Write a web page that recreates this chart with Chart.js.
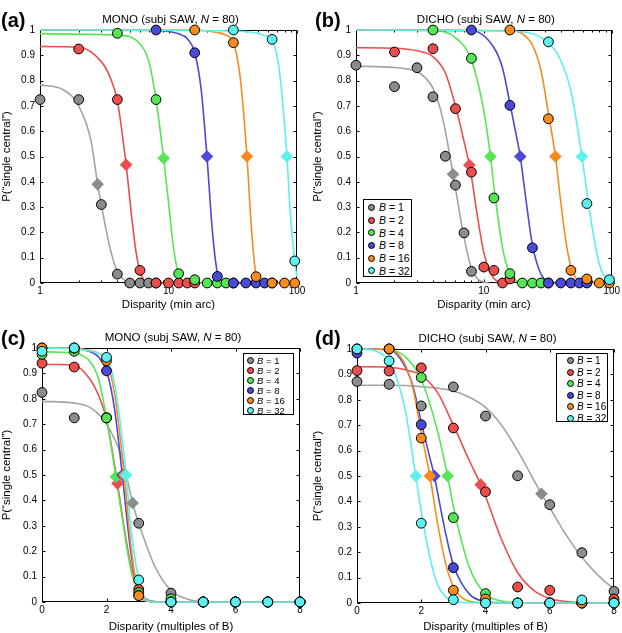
<!DOCTYPE html>
<html>
<head>
<meta charset="utf-8">
<title>MONO / DICHO psychometric functions</title>
<script src="https://cdn.jsdelivr.net/npm/chart.js@4.4.1/dist/chart.umd.min.js"></script>
<style>
  html, body { margin: 0; padding: 0; background: #fff; }
  body { position: relative; width: 622px; height: 633px; overflow: hidden;
         font-family: "Liberation Sans", Arial, Helvetica, sans-serif; color: #000; }
  canvas.panel { position: absolute; }
  .tag { position: absolute; font-weight: bold; font-size: 20px; line-height: 20px; }
  .title { position: absolute; font-size: 11.5px; line-height: 14px; white-space: nowrap; transform: translate(-50%, -50%); }
  .legend { position: absolute; box-sizing: border-box; border: 1px solid #000; background: #fff; }
  .legend .row { display: flex; align-items: center; white-space: nowrap; }
  .legend .dot { display: inline-block; box-sizing: border-box; border: 1px solid #000; border-radius: 50%; flex: none; }
</style>
</head>
<body>
<canvas id="chart-a" class="panel"></canvas>
<canvas id="chart-b" class="panel"></canvas>
<canvas id="chart-c" class="panel"></canvas>
<canvas id="chart-d" class="panel"></canvas>
<div id="overlay"></div>
<script>
// Block sizes and the multiples of B that were tested
const bValues = [1, 2, 4, 8, 16, 32];
const multiples = [0, 1, 2, 3, 4, 5, 6, 7, 8];

const pointColors = ['#8c8c8c', '#ec4d4d', '#55e655', '#4a4ad9', '#f78c1e', '#5cf0f0'];
const lineColors = ['#a3a3a3', '#ec4d4d', '#55e655', '#4a4ad9', '#f78c1e', '#5cf0f0'];

// MONO: P("single central") at disparity = multiple * B
const monoB1 = [0.825, 0.725, 0.725, 0.31, 0.035, 0, 0, 0, 0];
const monoB2 = [0.94, 0.925, 0.725, 0.05, 0, 0, 0, 0, 0];
const monoB4 = [0.975, 0.987, 0.725, 0.037, 0.013, 0, 0, 0, 0];
const monoB8 = [1, 1, 0.91, 0.026, 0, 0, 0, 0, 0];
const monoB16 = [1, 1, 0.95, 0.025, 0, 0, 0, 0, 0];
const monoB32 = [0.987, 1, 0.963, 0.087, 0, 0, 0, 0, 0];

// DICHO
const dichoB1 = [0.872, 0.861, 0.776, 0.851, 0.736, 0.501, 0.387, 0.198, 0.046];
const dichoB2 = [0.915, 0.913, 0.926, 0.689, 0.438, 0.063, 0.05, 0, 0.016];
const dichoB4 = [1, 1, 0.888, 0.336, 0.037, 0, 0, 0, 0];
const dichoB8 = [0.984, 1, 0.702, 0.139, 0, 0, 0, 0, 0];
const dichoB16 = [1, 1, 0.649, 0.05, 0.016, 0, 0, 0, 0];
const dichoB32 = [1, 0.953, 0.314, 0.013, 0, 0, 0, 0.012, 0];

// half-maximum points (diamonds), x in multiples of B
const monoHalfK = [2.81, 2.34, 2.29, 2.49, 2.55, 2.61];
const monoHalfP = [0.39, 0.467, 0.493, 0.5, 0.5, 0.5];
const dichoHalfK = [5.74, 3.85, 2.82, 2.41, 2.27, 1.83];
const dichoHalfP = [0.43, 0.466, 0.5, 0.5, 0.5, 0.5];

// fitted curves: [multiple of B, P]
const monoFitB1 = [[0, 0.79], [1, 0.783], [1.5, 0.765], [2, 0.70], [2.5, 0.56], [2.81, 0.39], [3, 0.31], [3.5, 0.14], [4, 0.045], [4.5, 0.012], [5, 0.002], [6, 0], [8, 0]];
const monoFitB2 = [[0, 0.935], [0.5, 0.935], [1, 0.932], [1.5, 0.875], [1.75, 0.815], [2, 0.72], [2.34, 0.467], [2.6, 0.25], [2.8, 0.12], [3, 0.045], [3.25, 0.01], [3.5, 0.002], [4, 0], [8, 0]];
const monoFitB4 = [[0, 0.985], [1, 0.98], [1.5, 0.945], [1.75, 0.88], [2, 0.725], [2.29, 0.493], [2.5, 0.32], [2.75, 0.13], [3, 0.035], [3.25, 0.008], [3.5, 0.001], [4, 0], [8, 0]];
const monoFitB8 = [[0, 1], [1, 0.998], [1.5, 0.985], [1.75, 0.965], [2, 0.91], [2.25, 0.76], [2.49, 0.5], [2.75, 0.2], [3, 0.04], [3.25, 0.006], [3.5, 0], [8, 0]];
const monoFitB16 = [[0, 1], [1, 1], [1.5, 0.99], [1.75, 0.98], [2, 0.95], [2.25, 0.82], [2.55, 0.5], [2.75, 0.23], [3, 0.03], [3.25, 0.004], [3.5, 0], [8, 0]];
const monoFitB32 = [[0, 1], [1, 0.996], [1.5, 0.988], [1.75, 0.978], [2, 0.96], [2.25, 0.86], [2.61, 0.5], [2.75, 0.3], [3, 0.085], [3.125, 0.025], [3.25, 0.005], [3.5, 0], [8, 0]];

const dichoFitB1 = [[0, 0.857], [1, 0.857], [2, 0.852], [3, 0.835], [3.5, 0.81], [4, 0.77], [4.5, 0.70], [5, 0.6], [5.74, 0.43], [6, 0.375], [6.5, 0.27], [7, 0.18], [7.5, 0.11], [8, 0.058], [9, 0.015], [10, 0.004], [11, 0]];
const dichoFitB2 = [[0, 0.93], [0.5, 0.93], [1, 0.928], [1.5, 0.918], [2, 0.895], [2.5, 0.83], [3, 0.70], [3.5, 0.56], [3.85, 0.466], [4, 0.42], [4.5, 0.25], [5, 0.12], [5.5, 0.05], [6, 0.018], [6.5, 0.006], [7, 0.002], [8, 0]];
const dichoFitB4 = [[0, 1], [0.25, 1], [1, 0.997], [1.5, 0.97], [2, 0.88], [2.5, 0.68], [2.82, 0.5], [3, 0.38], [3.5, 0.14], [4, 0.035], [4.5, 0.008], [5, 0.002], [6, 0], [8, 0]];
const dichoFitB8 = [[0, 1], [1, 0.997], [1.5, 0.93], [1.75, 0.85], [2, 0.71], [2.25, 0.58], [2.41, 0.5], [2.5, 0.44], [2.75, 0.28], [3, 0.15], [3.5, 0.035], [4, 0.006], [4.5, 0.001], [5, 0], [8, 0]];
const dichoFitB16 = [[0, 1], [1, 0.997], [1.25, 0.985], [1.5, 0.94], [1.75, 0.84], [2, 0.67], [2.27, 0.5], [2.5, 0.32], [2.75, 0.16], [3, 0.065], [3.25, 0.022], [3.5, 0.007], [4, 0.001], [4.5, 0], [8, 0]];
const dichoFitB32 = [[0, 1], [0.5, 0.995], [1, 0.95], [1.25, 0.88], [1.5, 0.76], [1.83, 0.5], [2, 0.36], [2.25, 0.19], [2.5, 0.075], [2.75, 0.025], [3, 0.008], [3.5, 0.001], [4, 0], [8, 0]];

const monoPoints = [monoB1, monoB2, monoB4, monoB8, monoB16, monoB32];
const dichoPoints = [dichoB1, dichoB2, dichoB4, dichoB8, dichoB16, dichoB32];
const monoFits = [monoFitB1, monoFitB2, monoFitB4, monoFitB8, monoFitB16, monoFitB32];
const dichoFits = [dichoFitB1, dichoFitB2, dichoFitB4, dichoFitB8, dichoFitB16, dichoFitB32];

const FONT = '"Liberation Sans", Arial, Helvetica, sans-serif';

// panel layout: canvas box and wanted plot area (left, top, right, bottom) inside it
const panels = [
  { id: 'chart-a', tag: '(a)', left: 0, top: 0, w: 311, h: 316, area: [40, 30, 297, 283], log: true, mode: 'MONO',
    xTitle: 'Disparity (min arc)', legend: null },
  { id: 'chart-b', tag: '(b)', left: 311, top: 0, w: 311, h: 316, area: [45, 30, 302, 283], log: true, mode: 'DICHO',
    xTitle: 'Disparity (min arc)', legend: { x: 363, y: 199, w: 49, h: 78, row: 12.7, font: 10.5, dot: 7, pad: 4, gap: 4 } },
  { id: 'chart-c', tag: '(c)', left: 0, top: 316, w: 311, h: 322, area: [42, 32, 300, 286], log: false, mode: 'MONO',
    xTitle: 'Disparity (multiples of B)', legend: { x: 243, y: 353, w: 51, h: 62, row: 10.1, font: 9.5, dot: 7, pad: 3, gap: 3 } },
  { id: 'chart-d', tag: '(d)', left: 311, top: 316, w: 311, h: 322, area: [46, 33, 303, 287], log: false, mode: 'DICHO',
    xTitle: 'Disparity (multiples of B)', legend: { x: 556, y: 353, w: 52, h: 69, row: 11.5, font: 10, dot: 7, pad: 10, gap: 3 } },
];

// Box with inward tick marks on all four sides
const framePlugin = {
  id: 'frame',
  beforeDatasetsDraw(chart) {
    const { ctx, chartArea: a, scales: { x, y } } = chart;
    const L = Math.round(a.left) + 0.5, R = Math.round(a.right) - 0.5;
    const T = Math.round(a.top) + 0.5, B = Math.round(a.bottom) - 0.5;
    ctx.save();
    ctx.strokeStyle = '#000';
    ctx.lineWidth = 1;
    ctx.beginPath();
    x.ticks.forEach(t => {
      const px = Math.round(x.getPixelForValue(t.value)) + 0.5;
      const len = t.label === '' ? 2 : 3;
      ctx.moveTo(px, B); ctx.lineTo(px, B - len);
      ctx.moveTo(px, T); ctx.lineTo(px, T + len);
    });
    y.ticks.forEach(t => {
      const py = Math.round(y.getPixelForValue(t.value)) + 0.5;
      ctx.moveTo(L, py); ctx.lineTo(L + 3, py);
      ctx.moveTo(R, py); ctx.lineTo(R - 3, py);
    });
    ctx.stroke();
    ctx.strokeRect(L, T, R - L, B - T);
    ctx.restore();
  }
};

function buildDatasets(points, fits, halfK, halfP, log) {
  const sets = [];
  bValues.forEach((b, i) => {
    // fitted curve
    let curve = fits[i].map(([k, p]) => ({ x: log ? k * b : k, y: p }));
    if (log) {
      curve = curve.filter(pt => pt.x >= 1);
      if (curve[0].x > 1) curve.unshift({ x: 1, y: fits[i][0][1] });
    }
    sets.push({
      data: curve,
      showLine: true,
      borderColor: lineColors[i],
      borderWidth: 1.6,
      pointRadius: 0,
      cubicInterpolationMode: 'monotone',
      clip: 1,
      order: 40 - i,
    });
    // half-maximum diamond
    sets.push({
      data: [{ x: log ? halfK[i] * b : halfK[i], y: halfP[i] }],
      pointStyle: 'rectRot',
      pointRadius: 6.3,
      backgroundColor: pointColors[i],
      borderWidth: 0,
      clip: false,
      order: 30 - i,
    });
    // observed proportions
    let obs = multiples.map((k, j) => ({ x: log ? k * b : k, y: points[i][j] }));
    if (log) obs = obs.filter(pt => pt.x >= 1 && pt.x <= 100);
    sets.push({
      data: obs,
      pointStyle: 'circle',
      pointRadius: 4.9,
      backgroundColor: pointColors[i],
      borderColor: '#000',
      borderWidth: 1,
      clip: false,
      order: 20 - i,
    });
  });
  return sets;
}

function makePanel(p) {
  const canvas = document.getElementById(p.id);
  canvas.width = p.w;
  canvas.height = p.h;
  canvas.style.left = p.left + 'px';
  canvas.style.top = p.top + 'px';
  const [L, T, R, B] = p.area;
  const mono = p.mode === 'MONO';
  const datasets = mono
    ? buildDatasets(monoPoints, monoFits, monoHalfK, monoHalfP, p.log)
    : buildDatasets(dichoPoints, dichoFits, dichoHalfK, dichoHalfP, p.log);

  const xScale = p.log
    ? {
        type: 'logarithmic', min: 1, max: 100,
        ticks: {
          autoSkip: false, maxRotation: 0, padding: 2, color: '#000',
          font: { family: FONT, size: 10 },
          callback: v => {
            const e = Math.log10(v);
            return Math.abs(e - Math.round(e)) < 1e-9 ? String(v) : '';
          },
        },
      }
    : {
        type: 'linear', min: 0, max: 8,
        ticks: { stepSize: 2, autoSkip: false, maxRotation: 0, padding: 2, color: '#000', font: { family: FONT, size: 10 } },
      };
  Object.assign(xScale, {
    position: 'bottom',
    grid: { display: false, drawTicks: false },
    border: { display: false },
    title: { display: true, text: p.xTitle, color: '#000', font: { family: FONT, size: 11.5 }, padding: { top: 0, bottom: 4 } },
    afterFit: s => { s.height = p.h - B; },
  });

  const chart = new Chart(canvas, {
    type: 'scatter',
    data: { datasets },
    options: {
      responsive: false,
      animation: false,
      events: [],
      layout: { autoPadding: false, padding: { left: 0, top: T, right: p.w - R, bottom: 0 } },
      plugins: { legend: { display: false }, tooltip: { enabled: false } },
      scales: {
        x: xScale,
        y: {
          type: 'linear', min: 0, max: 1,
          grid: { display: false, drawTicks: false },
          border: { display: false },
          ticks: {
            stepSize: 0.1, padding: 5, color: '#000', font: { family: FONT, size: 10 },
            callback: v => String(Math.round(v * 10) / 10),
          },
          title: { display: true, text: 'P(\u201csingle central\u201d)', color: '#000', font: { family: FONT, size: 11.5 }, padding: { top: 0, bottom: 0 } },
          afterFit: s => { s.width = L; },
        },
      },
    },
    plugins: [framePlugin],
  });

  // HTML overlays: panel tag, title with italic N, legend with italic B
  const overlay = document.getElementById('overlay');
  const area = chart.chartArea;
  const tag = document.createElement('div');
  tag.className = 'tag';
  tag.textContent = p.tag;
  tag.style.left = (p.left + (p.left ? 4 : 1)) + 'px';
  tag.style.top = (p.top + (p.top ? 12 : 10)) + 'px';
  overlay.appendChild(tag);

  const title = document.createElement('div');
  title.className = 'title';
  title.innerHTML = p.mode + ' (subj SAW, <i>N</i> = 80)';
  title.style.left = (p.left + (area.left + area.right) / 2 + 2) + 'px';
  title.style.top = (p.top + area.top - 11) + 'px';
  overlay.appendChild(title);

  if (p.legend) {
    const lg = p.legend;
    const box = document.createElement('div');
    box.className = 'legend';
    Object.assign(box.style, { left: lg.x + 'px', top: lg.y + 'px', width: lg.w + 'px', height: lg.h + 'px',
      paddingLeft: lg.pad + 'px', paddingTop: '1px', fontSize: lg.font + 'px' });
    bValues.forEach((b, i) => {
      const row = document.createElement('div');
      row.className = 'row';
      row.style.height = lg.row + 'px';
      const dot = document.createElement('span');
      dot.className = 'dot';
      Object.assign(dot.style, { width: lg.dot + 'px', height: lg.dot + 'px', background: pointColors[i], marginRight: lg.gap + 'px' });
      const txt = document.createElement('span');
      txt.innerHTML = '<i>B</i> = ' + b;
      row.appendChild(dot);
      row.appendChild(txt);
      box.appendChild(row);
    });
    overlay.appendChild(box);
  }
  return chart;
}

const charts = panels.map(makePanel);
</script>
</body>
</html>
